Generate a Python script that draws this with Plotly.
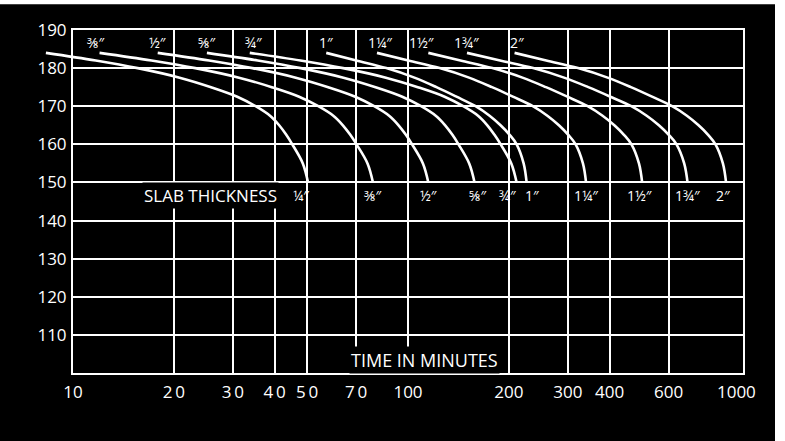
import numpy as np
import plotly.graph_objects as go

# ---------------- data ----------------
thickness_labels = ["¼″", "⅜″", "½″", "⅝″", "¾″", "1″", "1¼″", "1½″", "1¾″", "2″"]
temperatures = [184, 182, 180, 177.5, 175, 172.5, 170, 167.5, 165, 162.5, 160, 155, 150]

t_quarter = [8.3, 11.69, 15.6, 20.81, 25.83, 30.93, 35.09, 38.73, 41.25, 43.31, 45.14, 48.53, 50.3]
t_three_eighths = [12.0, 17.15, 23.17, 31.29, 39.21, 47.32, 53.98, 59.84, 63.91, 67.25, 70.2, 75.7, 78.6]
t_half = [17.9, 25.49, 34.32, 46.23, 57.79, 69.59, 79.27, 87.82, 93.72, 98.56, 102.85, 110.8, 115]
t_five_eighths = [25.1, 35.6, 47.8, 64.15, 80.0, 96.16, 109.4, 121.0, 129.1, 135.7, 141.5, 152.3, 158]
t_three_quarters = [33.7, 47.75, 64.03, 85.9, 107.0, 128.6, 146.2, 161.8, 172.5, 181.2, 189.1, 203.4, 211]
t_one = [57.0, 70.09, 86.17, 104.5, 121.6, 139.5, 159.1, 175.2, 188.9, 201.1, 211.0, 221.4, 226]
t_one_quarter = [80.8, 100.2, 124.3, 152.1, 178.1, 205.6, 235.8, 260.6, 282.1, 300.9, 316.5, 332.8, 340]
t_one_half = [115, 143.4, 178.7, 219.6, 258.1, 298.9, 343.8, 380.9, 413.0, 441.2, 464.6, 489.1, 500]
t_one_three_quarters = [150, 188.3, 236.4, 292.3, 345.3, 401.8, 464.0, 515.9, 560.9, 600.3, 633.1, 667.5, 683]
t_two = [208, 258.6, 321.7, 394.3, 462.8, 535.1, 614.3, 680.1, 736.9, 786.7, 827.7, 870.9, 890]

series_times = [t_quarter, t_three_eighths, t_half, t_five_eighths, t_three_quarters,
                t_one, t_one_quarter, t_one_half, t_one_three_quarters, t_two]

x_tick_vals = [10, 20, 30, 40, 50, 70, 100, 200, 300, 400, 600, 1000]
x_tick_text = ["10", "2\u20090", "3\u20090", "4\u20090", "5\u20090", "7\u20090",
               "100", "200", "300", "400", "600", "1000\u00a0\u00a0\u00a0"]
y_tick_vals = [100, 110, 120, 130, 140, 150, 160, 170, 180, 190]
y_tick_text = ["", "110", "120", "130", "140", "150", "160", "170", "180", "190"]

# ---------------- layout constants ----------------
W, H = 785, 441
ML, MR, MT, MB = 40, 42, 30, 68
frame_left_px = 73
plot_w = W - ML - MR
px_per_decade = (W - MR - frame_left_px) / 2.0
x_dom0 = (frame_left_px - ML) / plot_w
x2_lo = 1 - (frame_left_px - ML) / px_per_decade

FONT = "Open Sans, DejaVu Sans, sans-serif"
WHITE = "white"

fig = go.Figure()
for lab, ts in zip(thickness_labels, series_times):
    fig.add_trace(go.Scatter(
        x=ts, y=temperatures, mode="lines", name=lab,
        line=dict(color=WHITE, width=2.6, shape="spline", smoothing=1.0),
        xaxis="x2", yaxis="y2", showlegend=False, hoverinfo="skip"))

annotations = []
# labels at top (start of curves, except 1/4")
top_shift = [-4, 0, 0, 4, 0, 3, -7, 0, 2]
for lab, ts, sh in zip(thickness_labels[1:], series_times[1:], top_shift):
    annotations.append(dict(x=np.log10(ts[0]), y=186.6, xref="x", yref="y",
                            text=lab, showarrow=False, xshift=sh,
                            font=dict(color=WHITE, size=14, family=FONT)))
# labels at bottom (end of curves)
bottom_shift = [-7, 0, 0, 3, -9, 5, 0, -3, 0, -3]
for lab, ts, sh in zip(thickness_labels, series_times, bottom_shift):
    annotations.append(dict(x=np.log10(ts[-1]), y=146.6, xref="x", yref="y",
                            text=lab, showarrow=False, xshift=sh,
                            font=dict(color=WHITE, size=14, family=FONT)))
annotations.append(dict(x=np.log10(25.8), y=146.6, xref="x", yref="y",
                        text="SLAB THICKNESS", showarrow=False, bgcolor="black",
                        font=dict(color=WHITE, size=17, family=FONT)))
annotations.append(dict(x=np.log10(112), y=103.4, xref="x", yref="y",
                        text="TIME IN MINUTES", showarrow=False, bgcolor="black",
                        font=dict(color=WHITE, size=18, family=FONT)))

axis_common = dict(showgrid=True, gridcolor=WHITE, zeroline=False,
                   showline=True, mirror=True, linecolor=WHITE, linewidth=2,
                   tickfont=dict(color=WHITE, size=17, family=FONT),
                   ticks="outside", tickcolor="rgba(0,0,0,0)")

fig.update_layout(
    width=W, height=H,
    margin=dict(l=ML, r=MR, t=MT, b=MB),
    paper_bgcolor="black", plot_bgcolor="rgba(0,0,0,0)",
    xaxis=dict(type="log", range=[1, 3], domain=[x_dom0, 1], anchor="y",
               tickmode="array", tickvals=x_tick_vals, ticktext=x_tick_text,
               gridwidth=1.5, ticklen=3, **axis_common),
    yaxis=dict(range=[100, 190], anchor="x", tickmode="array",
               tickvals=y_tick_vals, ticktext=y_tick_text,
               gridwidth=2, ticklen=1, **axis_common),
    xaxis2=dict(type="log", range=[x2_lo, 3], domain=[0, 1], anchor="y2",
                visible=False, fixedrange=True),
    yaxis2=dict(range=[100, 190], domain=[0, 1], anchor="x2",
                visible=False, fixedrange=True),
    annotations=annotations,
    shapes=[
        dict(type="rect", xref="paper", yref="paper", x0=-0.2, x1=1.2,
             y0=1.075, y1=1.2, fillcolor=WHITE, line=dict(width=0), layer="below"),
        dict(type="rect", xref="paper", yref="paper",
             x0=(775 - ML) / plot_w, x1=1.2, y0=-0.3, y1=1.2,
             fillcolor=WHITE, line=dict(width=0), layer="below"),
    ],
)

fig.write_html("out.html",
               config={"displayModeBar": False},
               post_script="document.body.style.margin='0';"
                           "document.body.style.overflow='hidden';")
